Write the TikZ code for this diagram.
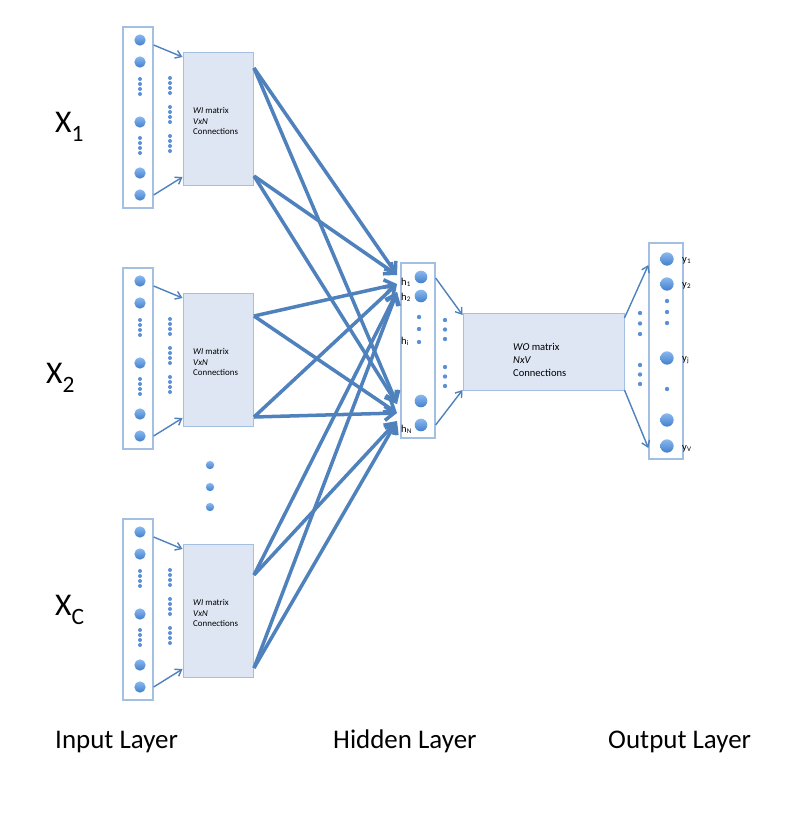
\documentclass[tikz,border=0pt]{standalone}
\usepackage{fontspec}
\setmainfont{Carlito}
\usetikzlibrary{arrows.meta}

\definecolor{edgeblue}{HTML}{4F81BD}
\definecolor{boxline}{HTML}{A3BFE2}
\definecolor{boxfill}{HTML}{DDE6F2}
\definecolor{ballhi}{HTML}{8AB8F0}
\definecolor{balllo}{HTML}{437FCB}
\definecolor{dotblue}{HTML}{5B8FD6}

\begin{document}
\begin{tikzpicture}[x=0.03cm, y=-0.03cm, >={Straight Barb[length=8pt,width=12pt]},
  layerbox/.style={draw=boxline, line width=1.1pt, inner sep=0pt},
  matbox/.style={draw=boxline, fill=boxfill, line width=0.8pt, inner sep=0pt},
  unit/.style={circle, inner sep=0pt, minimum size=#1, top color=ballhi, bottom color=balllo},
  bigarrow/.style={->, draw=edgeblue, line width=3pt},
  smallarrow/.style={-{Straight Barb[length=5pt,width=7pt]}, draw=edgeblue, line width=1.2pt},
  tinytext/.style={font=\fontsize{7.6}{9.2}\selectfont, align=left, inner sep=0pt},
  unitlabel/.style={font=\fontsize{9}{9}\selectfont, inner sep=0pt, anchor=base west},
  layerlabel/.style={font=\fontsize{23}{26}\selectfont, inner sep=0pt, anchor=base west},
  wordlabel/.style={font=\fontsize{27}{30}\selectfont, inner sep=0pt, anchor=base west}]

\useasboundingbox (0,0) rectangle (798,815);

%------------------ HIDDEN LAYER ------------------%
\node[layerbox, minimum width=1.02cm, minimum height=5.25cm] (hid) at (418,350.5) {};
\node[unit=0.38cm] (h1) at (421,277) {};
\node[unit=0.38cm] (h2) at (421,296) {};
\node[unit=0.38cm] (hi) at (421,401) {};
\node[unit=0.38cm] (hN) at (421,425) {};
\foreach \y in {317,329,342}
  \fill[dotblue] (419,\y) circle[radius=0.065cm];
\node[unitlabel] (h1-lab) at (401,285) {h\textsubscript{1}};
\node[unitlabel] (h2-lab) at (401,300) {h\textsubscript{2}};
\node[unitlabel] (hi-lab) at (401,344) {h\textsubscript{i}};
\node[unitlabel] (hN-lab) at (401,432) {h\textsubscript{N}};
\foreach \y in {320,329.5,339,367,376.5,386}
  \fill[dotblue] (445,\y) circle[radius=0.065cm];

%------------------ INPUT BLOCKS ------------------%
\foreach \b/\s/\oa/\ta/\tb in {1/0/68/275/404, 2/241/75/284/413, 3/492/83/292/421}{
  \begin{scope}[shift={(0,\s)}]
    \node[layerbox, minimum width=0.9cm, minimum height=5.43cm] (in\b) at (138,117.5) {};
    \foreach \y [count=\k] in {40,62,122,173,195}
      \node[unit=0.34cm] (x\b-\k) at (140,\y) {};
    \foreach \y in {79,84,89,94,138,143,148,153}
      \fill[dotblue] (140,\y) circle[radius=0.06cm];
    \foreach \y in {78,83,88,93,107,112,117,122,136,141,146,151}
      \fill[dotblue] (170,\y) circle[radius=0.06cm];
    \node[matbox, minimum width=2.1cm, minimum height=3.99cm] (W\b) at (218,118.5) {};
    \node[tinytext, anchor=west] (W\b-txt) at (193,121) {\textit{WI} matrix\\\textit{VxN}\\Connections};
    \coordinate (W\b-a) at (254,\oa);
    \coordinate (W\b-b) at (254,176);
    \draw[smallarrow] (in\b.east |- 0,45) -- (W\b.west |- 0,57);
    \draw[smallarrow] (in\b.east |- 0,195) -- (W\b.west |- 0,177);
  \end{scope}
  \coordinate (top\b) at (397,\ta);
  \coordinate (bot\b) at (397,\tb);
  \draw[bigarrow] (W\b-a) -- (top\b);
  \draw[bigarrow] (W\b-a) -- (bot\b);
  \draw[bigarrow] (W\b-b) -- (top\b);
  \draw[bigarrow] (W\b-b) -- (bot\b);
}

% dots between the second and third word
\node[unit=0.25cm] (gap1) at (210,465) {};
\node[unit=0.25cm] (gap2) at (210,487) {};
\node[unit=0.25cm] (gap3) at (210,507) {};

%------------------ OUTPUT SIDE ------------------%
\node[matbox, minimum width=4.83cm, minimum height=2.31cm] (WO) at (543.5,351.5) {};
\node[tinytext, font=\fontsize{9}{11}\selectfont, anchor=west] (WO-txt) at (513,360)
  {\textit{WO} matrix\\\textit{NxV}\\Connections};
\draw[smallarrow] (hid.east |- 0,278) -- (WO.west |- 0,315);
\draw[smallarrow] (hid.east |- 0,425) -- (WO.west |- 0,390);

\node[layerbox, minimum width=1.02cm, minimum height=6.48cm] (out) at (666,351) {};
\node[unit=0.4cm] (y1) at (667,259) {};
\node[unit=0.4cm] (y2) at (667,284) {};
\node[unit=0.4cm] (yj) at (667,358) {};
\node[unit=0.4cm] (yk) at (667,420) {};
\node[unit=0.4cm] (yV) at (667,446) {};
\foreach \y in {301,312,323,389}
  \fill[dotblue] (667,\y) circle[radius=0.065cm];
\foreach \y in {313,323.5,334,365,374.5,384}
  \fill[dotblue] (640,\y) circle[radius=0.065cm];
\node[unitlabel] (y1-lab) at (682,262) {y\textsubscript{1}};
\node[unitlabel] (y2-lab) at (682,287) {y\textsubscript{2}};
\node[unitlabel] (yj-lab) at (682,361) {y\textsubscript{j}};
\node[unitlabel] (yV-lab) at (682,450) {y\textsubscript{V}};
\draw[smallarrow] (WO.east |- 0,318) -- (out.west |- 0,265);
\draw[smallarrow] (WO.east |- 0,390) -- (out.west |- 0,448);

%------------------ LABELS ------------------%
\node[wordlabel] (X1) at (55,132) {X\raisebox{-0.3em}{\fontsize{20}{20}\selectfont 1}};
\node[wordlabel] (X2) at (46,383) {X\raisebox{-0.3em}{\fontsize{20}{20}\selectfont 2}};
\node[wordlabel] (XC) at (55,615) {X\raisebox{-0.3em}{\fontsize{20}{20}\selectfont C}};

\node[layerlabel] (inlab)  at (55,748)  {Input Layer};
\node[layerlabel] (hidlab) at (333,748) {Hidden Layer};
\node[layerlabel] (outlab) at (608,748) {Output Layer};

\end{tikzpicture}
\end{document}
